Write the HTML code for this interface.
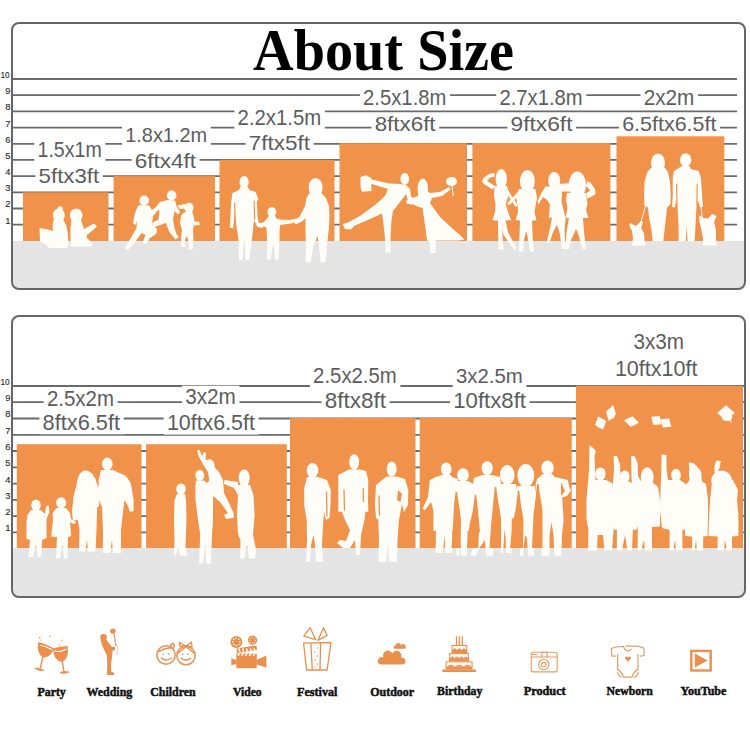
<!DOCTYPE html>
<html><head><meta charset="utf-8"><style>
html,body{margin:0;padding:0;background:#fff;width:750px;height:750px;overflow:hidden}
svg{display:block}
</style></head><body>
<svg width="750" height="750" viewBox="0 0 750 750">
<rect x="12" y="23" width="733" height="266" rx="7" fill="#fff"/>
<rect x="12" y="316" width="733" height="281" rx="7" fill="#fff"/>
<path d="M13 241 H744 V282 a6 6 0 0 1 -6 6 H19 a6 6 0 0 1 -6 -6 Z" fill="#e4e4e4"/>
<path d="M13 548 H744 V590 a6 6 0 0 1 -6 6 H19 a6 6 0 0 1 -6 -6 Z" fill="#e4e4e4"/>
<line x1="13" x2="737" y1="224.7" y2="224.7" stroke="#6a6a6a" stroke-width="1.8"/>
<line x1="13" x2="737" y1="208.5" y2="208.5" stroke="#6a6a6a" stroke-width="1.8"/>
<line x1="13" x2="737" y1="192.3" y2="192.3" stroke="#6a6a6a" stroke-width="1.8"/>
<line x1="13" x2="737" y1="176.1" y2="176.1" stroke="#6a6a6a" stroke-width="1.8"/>
<line x1="13" x2="737" y1="159.9" y2="159.9" stroke="#6a6a6a" stroke-width="1.8"/>
<line x1="13" x2="737" y1="143.8" y2="143.8" stroke="#6a6a6a" stroke-width="1.8"/>
<line x1="13" x2="737" y1="127.6" y2="127.6" stroke="#6a6a6a" stroke-width="1.8"/>
<line x1="13" x2="737" y1="111.4" y2="111.4" stroke="#6a6a6a" stroke-width="1.8"/>
<line x1="13" x2="737" y1="95.2" y2="95.2" stroke="#6a6a6a" stroke-width="1.8"/>
<line x1="13" x2="737" y1="79.0" y2="79.0" stroke="#6a6a6a" stroke-width="1.8"/>
<line x1="13" x2="744" y1="532.4" y2="532.4" stroke="#6a6a6a" stroke-width="1.8"/>
<line x1="13" x2="744" y1="516.1" y2="516.1" stroke="#6a6a6a" stroke-width="1.8"/>
<line x1="13" x2="744" y1="499.9" y2="499.9" stroke="#6a6a6a" stroke-width="1.8"/>
<line x1="13" x2="744" y1="483.6" y2="483.6" stroke="#6a6a6a" stroke-width="1.8"/>
<line x1="13" x2="744" y1="467.3" y2="467.3" stroke="#6a6a6a" stroke-width="1.8"/>
<line x1="13" x2="744" y1="451.0" y2="451.0" stroke="#6a6a6a" stroke-width="1.8"/>
<line x1="13" x2="744" y1="434.8" y2="434.8" stroke="#6a6a6a" stroke-width="1.8"/>
<line x1="13" x2="744" y1="418.5" y2="418.5" stroke="#6a6a6a" stroke-width="1.8"/>
<line x1="13" x2="744" y1="402.2" y2="402.2" stroke="#6a6a6a" stroke-width="1.8"/>
<line x1="13" x2="744" y1="386.0" y2="386.0" stroke="#6a6a6a" stroke-width="1.8"/>
<rect x="23" y="192.3" width="85.5" height="48.7" fill="#f1924a"/>
<rect x="113.6" y="176.1" width="101.4" height="64.9" fill="#f1924a"/>
<rect x="219.5" y="159.8" width="115.0" height="81.2" fill="#f1924a"/>
<rect x="339.5" y="143.2" width="127.5" height="97.8" fill="#f1924a"/>
<rect x="472.4" y="143.0" width="138.0" height="98.0" fill="#f1924a"/>
<rect x="616.5" y="136.3" width="107.8" height="104.7" fill="#f1924a"/>
<rect x="16.8" y="444.2" width="124.7" height="103.8" fill="#f1924a"/>
<rect x="146.1" y="444.2" width="140.7" height="103.8" fill="#f1924a"/>
<rect x="290" y="418.0" width="125.5" height="130.0" fill="#f1924a"/>
<rect x="419.7" y="417.9" width="152.0" height="130.1" fill="#f1924a"/>
<rect x="576" y="385.7" width="167.0" height="162.3" fill="#f1924a"/>
<ellipse cx="58.8" cy="215.3" rx="5.9" ry="6.9" fill="#fffdf8"/>
<ellipse cx="60.2" cy="208.8" rx="2.6" ry="2.6" fill="#fffdf8"/>
<path d="M53.5 220.0 L63.5 220.0 L66.5 226.0 L68.0 235.0 L68.4 244.0 L67.0 248.0 L49.0 248.0 L46.0 244.5 L40.0 241.5 L39.5 228.0 L48.0 229.5 L53.0 231.0 L52.5 226.0 Z" fill="#fffdf8"/>
<ellipse cx="76.2" cy="215.3" rx="6.3" ry="6.9" fill="#fffdf8"/>
<path d="M71.5 220.0 L81.0 220.0 L83.0 226.0 L84.0 229.0 L94.0 223.5 L97.0 226.5 L86.5 235.5 L87.0 238.0 L92.5 243.0 L91.5 246.5 L70.5 246.5 L70.5 238.0 L70.5 228.0 Z" fill="#fffdf8"/>
<ellipse cx="144.2" cy="200.5" rx="4.8" ry="5.0" fill="#fffdf8"/>
<path d="M139.5 205.0 L149.0 205.5 L152.0 210.0 L156.5 207.0 L158.5 209.5 L153.0 216.0 L152.0 224.0 L157.0 229.0 L156.5 233.5 L149.5 238.5 L146.5 244.0 L142.5 243.0 L145.5 235.0 L141.5 233.0 L134.0 243.5 L128.0 250.0 L124.5 248.5 L130.5 238.5 L136.5 228.0 L137.0 221.0 L135.5 225.0 L133.0 223.0 L135.0 213.0 L137.5 207.0 Z" fill="#fffdf8"/>
<ellipse cx="171.6" cy="195.5" rx="4.8" ry="5.0" fill="#fffdf8"/>
<path d="M167.5 200.0 L175.0 200.5 L176.5 206.0 L180.0 212.0 L178.0 214.5 L174.5 211.0 L173.0 219.0 L174.5 228.0 L176.5 234.0 L179.0 237.0 L175.5 239.5 L169.0 231.5 L166.0 223.0 L160.0 225.0 L154.0 227.0 L152.0 223.0 L158.5 219.5 L159.5 212.0 L158.0 208.5 L155.0 212.5 L153.0 210.5 L160.0 202.0 Z" fill="#fffdf8"/>
<ellipse cx="189.0" cy="207.8" rx="4.6" ry="5.0" fill="#fffdf8"/>
<path d="M177.5 205.5 L185.0 204.0 L185.5 208.5 L179.5 209.0 Z" fill="#fffdf8"/>
<path d="M185.0 212.0 L192.5 212.0 L194.0 218.0 L194.5 221.5 L199.5 222.0 L199.5 225.0 L193.5 225.5 L193.0 232.0 L193.5 240.0 L192.5 249.5 L188.5 249.5 L188.5 241.0 L186.5 236.0 L185.0 240.0 L185.5 247.0 L181.5 247.0 L181.0 238.0 L182.0 230.0 L180.0 223.0 L181.0 216.0 L183.0 213.5 Z" fill="#fffdf8"/>
<ellipse cx="244.1" cy="181.9" rx="4.6" ry="6.0" fill="#fffdf8"/>
<path d="M240.5 186.5 L247.5 186.5 L249.5 190.0 L255.5 192.0 L258.5 199.0 L256.8 201.5 L257.5 215.0 L258.5 222.0 L263.0 225.0 L263.0 228.0 L257.5 227.0 L255.0 222.0 L254.0 220.0 L252.0 239.0 L249.5 259.5 L245.5 260.0 L245.0 245.0 L244.0 240.0 L242.5 260.0 L239.0 260.5 L238.5 240.0 L235.5 220.0 L235.0 210.0 L233.5 225.0 L233.0 228.5 L229.8 227.5 L230.5 215.0 L231.3 201.0 L232.5 193.0 L239.0 190.0 Z" fill="#fffdf8"/>
<ellipse cx="271.9" cy="212.0" rx="4.4" ry="4.8" fill="#fffdf8"/>
<path d="M269.0 216.0 L275.0 216.0 L276.5 218.5 L279.5 219.5 L290.0 220.0 L296.5 218.5 L297.5 221.5 L291.0 223.5 L280.0 225.0 L279.5 232.0 L279.5 239.0 L278.5 259.5 L275.0 259.5 L273.5 243.0 L270.5 259.5 L267.0 259.5 L267.0 240.0 L266.5 228.0 L264.5 226.5 L259.0 226.0 L258.0 224.0 L264.0 222.0 L267.5 218.0 Z" fill="#fffdf8"/>
<ellipse cx="315.6" cy="187.5" rx="7.0" ry="9.5" fill="#fffdf8"/>
<path d="M309.5 193.0 L321.5 193.0 L326.0 198.0 L329.0 206.0 L329.5 215.0 L329.0 228.0 L327.5 240.0 L326.5 252.0 L325.5 262.5 L320.5 262.5 L319.0 244.0 L317.5 236.0 L313.5 246.0 L310.5 262.5 L305.5 262.5 L306.0 246.0 L305.5 232.0 L305.5 218.0 L302.5 221.0 L296.0 224.5 L293.5 221.5 L300.0 216.0 L305.0 206.0 L306.5 198.0 Z" fill="#fffdf8"/>
<line x1="234.6" y1="203.0" x2="235.3" y2="223.0" stroke="#f1924a" stroke-width="1.2" stroke-linecap="round"/>
<line x1="254.2" y1="201.0" x2="254.6" y2="219.0" stroke="#f1924a" stroke-width="1.2" stroke-linecap="round"/>
<path d="M360.5 177.0 L366.0 175.3 L371.0 178.0 L371.5 191.0 L362.0 191.7 L360.5 187.0 Z" fill="#fffdf8"/>
<path d="M369.0 177.0 L372.0 179.5 L389.0 183.5 L400.0 184.0 L406.0 185.0 L410.0 189.0 L411.0 196.0 L413.0 199.0 L415.0 199.0 L415.5 202.0 L411.0 205.0 L408.0 201.0 L406.0 194.0 L400.0 202.0 L393.0 211.0 L391.5 220.0 L390.5 238.0 L390.5 252.5 L385.5 252.5 L385.0 238.0 L383.0 220.0 L382.0 213.5 L370.0 219.0 L354.0 226.0 L351.0 229.5 L345.0 229.0 L342.5 224.0 L348.0 222.5 L360.0 216.0 L375.0 205.0 L385.0 196.0 L388.0 189.0 L372.0 184.0 L368.0 182.0 Z" fill="#fffdf8"/>
<ellipse cx="404.8" cy="178.8" rx="4.4" ry="5.9" fill="#fffdf8"/>
<ellipse cx="422.8" cy="188.5" rx="5.2" ry="10.0" fill="#fffdf8"/>
<path d="M419.0 190.0 L426.0 190.0 L430.0 193.0 L440.0 192.0 L449.0 187.0 L450.5 189.5 L442.0 196.0 L432.0 198.0 L430.0 203.0 L440.0 217.0 L453.0 229.0 L460.0 235.0 L464.5 239.5 L458.0 240.5 L436.0 240.5 L435.5 253.0 L430.5 253.0 L429.5 241.0 L427.0 240.5 L425.0 225.0 L422.5 208.0 L419.0 207.0 L412.0 204.0 L407.0 204.0 L406.0 201.0 L412.0 198.0 L418.0 196.0 Z" fill="#fffdf8"/>
<ellipse cx="451.5" cy="181.5" rx="5.5" ry="4.6" fill="#fffdf8"/>
<line x1="452.0" y1="186.0" x2="453.3" y2="195.8" stroke="#fffdf8" stroke-width="1" stroke-linecap="round"/>
<ellipse cx="501.3" cy="179.0" rx="5.7" ry="9.9" fill="#fffdf8"/>
<path d="M494.5 173.0 L489.0 174.0 L483.5 178.0 L481.8 181.5 L484.0 184.0 L492.5 189.5 L495.0 186.0 L487.0 181.0 L490.0 177.5 L495.0 176.5 Z" fill="#fffdf8"/>
<path d="M494.5 186.0 L507.0 186.0 L509.0 193.0 L507.0 200.0 L505.8 204.6 L508.0 212.0 L511.2 220.2 L505.5 220.5 L508.0 232.0 L516.5 248.0 L514.5 250.0 L503.5 235.0 L502.0 229.0 L503.5 249.0 L498.5 249.5 L498.0 232.0 L498.0 220.5 L492.6 220.2 L495.0 212.0 L495.6 204.6 L494.0 196.0 Z" fill="#fffdf8"/>
<line x1="506.0" y1="190.0" x2="516.0" y2="205.0" stroke="#fffdf8" stroke-width="3" stroke-linecap="round"/>
<ellipse cx="527.4" cy="181.2" rx="7.4" ry="11.2" fill="#fffdf8"/>
<path d="M519.0 189.0 L535.5 189.0 L537.0 198.0 L535.5 206.0 L534.5 212.0 L536.4 220.2 L532.0 220.5 L532.5 235.0 L534.0 251.4 L530.0 251.4 L527.5 236.0 L526.0 231.0 L524.0 240.0 L523.0 251.4 L519.0 251.4 L519.5 235.0 L520.0 220.5 L515.5 220.2 L518.0 212.0 L517.5 205.0 L516.0 197.0 Z" fill="#fffdf8"/>
<line x1="520.0" y1="192.0" x2="509.0" y2="203.5" stroke="#fffdf8" stroke-width="3" stroke-linecap="round"/>
<ellipse cx="554.2" cy="180.5" rx="6.0" ry="8.5" fill="#fffdf8"/>
<path d="M545.5 186.6 L560.8 186.6 L562.0 195.0 L561.5 200.0 L562.0 204.6 L565.6 217.8 L564.5 232.0 L565.6 249.0 L562.0 249.0 L559.5 232.0 L557.0 225.0 L553.0 232.0 L549.5 243.0 L546.5 243.0 L550.0 228.0 L552.0 217.8 L548.8 217.8 L550.0 204.6 L547.0 200.0 L543.0 197.0 L538.5 204.5 L537.5 201.0 L542.0 192.0 Z" fill="#fffdf8"/>
<ellipse cx="577.3" cy="185.0" rx="8.7" ry="13.5" fill="#fffdf8"/>
<path d="M557.5 184.0 L572.8 183.0 L573.5 191.4 L559.0 191.4 Z" fill="#fffdf8"/>
<path d="M586.0 186.0 L587.2 181.5 L590.0 182.0 L595.0 189.0 L595.6 194.0 L592.0 196.5 L587.0 198.5 L586.5 193.0 L590.5 190.5 Z" fill="#fffdf8"/>
<path d="M567.0 193.0 L586.0 193.0 L587.5 204.0 L586.0 210.0 L588.4 217.8 L583.0 218.0 L584.0 232.0 L586.0 249.0 L582.5 249.0 L578.0 233.0 L576.0 229.0 L571.0 240.0 L569.0 249.0 L565.6 249.0 L566.5 232.0 L569.0 218.0 L565.6 217.8 L567.5 208.0 L566.0 200.0 Z" fill="#fffdf8"/>
<ellipse cx="658.0" cy="163.0" rx="7.0" ry="9.5" fill="#fffdf8"/>
<path d="M651.0 168.0 L665.0 168.0 L668.0 172.0 L670.0 182.0 L670.7 195.0 L670.5 204.0 L668.0 206.5 L667.0 208.0 L665.5 222.0 L664.0 235.0 L663.3 241.0 L652.7 241.0 L651.5 230.0 L649.0 217.0 L648.0 208.0 L647.0 206.5 L644.5 205.8 L644.0 195.0 L644.5 182.0 L647.3 172.0 Z" fill="#fffdf8"/>
<ellipse cx="685.7" cy="160.0" rx="5.7" ry="6.7" fill="#fffdf8"/>
<path d="M682.0 166.0 L689.5 166.0 L691.0 169.3 L698.7 171.0 L701.0 178.0 L702.0 195.0 L703.0 206.7 L700.0 207.5 L698.0 200.0 L696.5 206.7 L695.5 225.0 L694.7 241.3 L687.5 241.3 L686.8 225.0 L685.8 241.3 L678.7 241.3 L678.5 225.0 L677.5 206.7 L676.0 200.0 L675.0 207.5 L672.0 206.7 L672.8 195.0 L672.7 178.0 L674.0 171.0 Z" fill="#fffdf8"/>
<line x1="676.6" y1="184.0" x2="677.0" y2="206.0" stroke="#f1924a" stroke-width="1.2" stroke-linecap="round"/>
<line x1="697.2" y1="184.0" x2="696.9" y2="205.0" stroke="#f1924a" stroke-width="1.2" stroke-linecap="round"/>
<path d="M630.0 223.0 L633.0 224.5 L636.0 226.0 L641.0 221.0 L643.0 222.0 L641.0 228.0 L644.0 233.0 L644.5 241.0 L646.0 245.5 L632.0 245.5 L633.0 238.0 L632.0 231.0 L629.5 226.0 Z" fill="#fffdf8"/>
<path d="M699.0 215.0 L703.0 218.0 L708.0 218.5 L712.0 214.0 L716.5 216.0 L714.0 222.0 L716.0 230.0 L716.0 240.0 L717.0 245.5 L703.0 245.5 L703.0 238.0 L701.0 228.0 L699.5 222.0 Z" fill="#fffdf8"/>
<line x1="645.5" y1="206.0" x2="641.0" y2="222.0" stroke="#fffdf8" stroke-width="0.9" stroke-linecap="round"/>
<line x1="701.0" y1="207.0" x2="702.5" y2="220.0" stroke="#fffdf8" stroke-width="0.9" stroke-linecap="round"/>
<ellipse cx="36.0" cy="505.2" rx="4.8" ry="5.6" fill="#fffdf8"/>
<path d="M31.0 510.0 L41.0 510.0 L45.0 514.0 L46.0 507.0 L48.5 505.0 L49.5 512.0 L46.5 519.0 L46.5 538.0 L42.0 540.0 L41.5 556.0 L38.0 557.5 L36.0 545.0 L33.0 557.0 L28.5 557.0 L30.0 540.0 L26.5 539.0 L26.5 522.0 L27.5 515.0 Z" fill="#fffdf8"/>
<ellipse cx="61.2" cy="502.8" rx="5.0" ry="5.6" fill="#fffdf8"/>
<path d="M56.5 508.0 L66.0 508.0 L70.0 513.0 L71.0 519.0 L76.0 522.0 L74.5 524.0 L70.0 522.5 L71.2 536.0 L68.0 537.0 L67.5 558.5 L64.0 558.5 L62.5 545.0 L60.0 558.5 L56.0 558.5 L57.0 537.0 L51.2 536.5 L53.0 520.0 L52.5 513.0 Z" fill="#fffdf8"/>
<ellipse cx="85.5" cy="477.5" rx="6.0" ry="7.0" fill="#fffdf8"/>
<path d="M79.5 474.0 L83.5 470.8 L88.5 471.0 L92.5 474.0 L95.5 479.0 L97.5 486.0 L76.0 488.5 L77.0 481.0 Z" fill="#fffdf8"/>
<path d="M76.0 487.0 L97.0 484.0 L100.0 490.0 L99.0 506.0 L97.2 507.0 L96.5 530.0 L95.5 551.6 L88.0 551.6 L87.0 540.0 L85.0 551.6 L79.0 551.6 L79.5 530.0 L78.0 520.0 L73.0 520.8 L72.0 512.0 L73.4 497.0 Z" fill="#fffdf8"/>
<ellipse cx="107.3" cy="464.0" rx="5.3" ry="6.5" fill="#fffdf8"/>
<path d="M101.0 470.0 L113.0 470.0 L126.0 476.0 L130.8 483.0 L133.6 500.0 L133.6 511.0 L130.0 512.0 L127.5 505.0 L124.5 500.0 L123.0 512.0 L121.0 530.0 L121.0 553.0 L113.0 553.0 L112.0 540.0 L110.0 553.0 L102.8 553.0 L103.0 530.0 L102.0 507.0 L99.0 500.0 L98.6 480.0 Z" fill="#fffdf8"/>
<ellipse cx="181.0" cy="489.0" rx="4.8" ry="5.6" fill="#fffdf8"/>
<path d="M177.0 494.0 L185.0 494.0 L186.0 500.0 L186.5 520.0 L185.5 547.0 L187.5 555.4 L180.0 555.4 L178.0 547.0 L176.0 555.4 L173.8 555.0 L174.5 540.0 L174.0 520.0 L174.5 500.0 Z" fill="#fffdf8"/>
<ellipse cx="199.8" cy="475.4" rx="4.4" ry="5.6" fill="#fffdf8"/>
<path d="M196.0 480.5 L204.0 480.5 L207.0 483.0 L212.0 478.0 L215.0 480.0 L213.0 490.0 L213.0 520.0 L212.0 534.6 L211.0 563.4 L206.5 563.4 L205.0 545.0 L203.0 563.4 L199.0 563.4 L200.2 534.6 L198.0 520.0 L195.5 500.0 L195.4 486.0 Z" fill="#fffdf8"/>
<path d="M197.0 450.0 L199.5 450.0 L202.0 456.0 L204.0 452.0 L206.0 453.0 L205.5 460.0 L210.0 459.5 L214.0 462.0 L215.0 468.0 L219.0 472.0 L223.0 480.0 L224.0 493.0 L229.0 503.0 L233.5 513.0 L234.0 517.5 L226.0 519.0 L224.0 515.0 L228.0 513.0 L220.0 502.0 L213.0 496.0 L210.0 485.0 L208.0 472.0 L204.0 466.0 L198.5 456.0 Z" fill="#fffdf8"/>
<ellipse cx="210.0" cy="464.2" rx="4.2" ry="4.6" fill="#fffdf8"/>
<ellipse cx="244.2" cy="478.0" rx="5.5" ry="8.8" fill="#fffdf8"/>
<path d="M238.0 485.0 L250.0 485.0 L253.5 495.0 L254.6 515.0 L253.0 534.6 L256.0 550.0 L255.0 558.6 L249.0 558.6 L247.0 545.0 L244.0 558.6 L240.2 558.6 L240.5 540.0 L238.0 534.6 L237.0 515.0 L238.0 495.0 L234.0 488.0 L224.0 484.0 L224.5 480.0 L238.0 482.0 Z" fill="#fffdf8"/>
<ellipse cx="312.5" cy="470.5" rx="5.8" ry="7.5" fill="#fffdf8"/>
<path d="M307.0 477.0 L318.0 477.0 L327.0 480.0 L330.8 490.0 L330.5 505.0 L329.5 518.0 L326.0 520.0 L324.0 512.0 L323.0 525.0 L322.0 545.0 L323.3 561.7 L316.0 561.7 L315.0 545.0 L313.5 535.0 L311.0 545.0 L310.0 561.7 L306.0 561.7 L307.0 540.0 L306.7 520.0 L304.2 505.0 L304.2 488.0 Z" fill="#fffdf8"/>
<ellipse cx="354.2" cy="462.0" rx="5.0" ry="7.8" fill="#fffdf8"/>
<path d="M349.0 469.5 L359.5 469.5 L366.0 471.0 L368.3 480.0 L368.0 500.0 L368.3 511.7 L365.5 511.7 L364.5 520.0 L361.0 535.0 L360.0 555.0 L356.0 555.0 L355.0 540.0 L350.0 548.0 L343.0 548.0 L337.0 543.0 L340.0 540.0 L346.0 541.0 L350.0 530.0 L345.0 520.0 L342.0 511.7 L338.3 511.7 L338.3 490.0 L338.3 475.0 Z" fill="#fffdf8"/>
<ellipse cx="391.7" cy="469.0" rx="5.0" ry="7.5" fill="#fffdf8"/>
<path d="M386.5 476.5 L397.0 476.5 L405.0 479.0 L408.3 490.0 L408.0 505.0 L404.0 512.0 L402.0 504.0 L399.0 520.0 L397.5 540.0 L397.0 561.7 L389.0 561.7 L388.0 545.0 L386.0 561.7 L378.3 561.7 L379.0 540.0 L378.3 520.0 L376.0 518.0 L375.0 505.0 L376.0 485.0 Z" fill="#fffdf8"/>
<line x1="326.5" y1="492.0" x2="327.0" y2="516.0" stroke="#f1924a" stroke-width="1.3" stroke-linecap="round"/>
<line x1="344.0" y1="490.0" x2="344.5" y2="510.0" stroke="#f1924a" stroke-width="1.3" stroke-linecap="round"/>
<line x1="363.3" y1="488.5" x2="363.5" y2="501.5" stroke="#f1924a" stroke-width="1.3" stroke-linecap="round"/>
<line x1="379.0" y1="496.0" x2="379.5" y2="515.0" stroke="#f1924a" stroke-width="1.3" stroke-linecap="round"/>
<path d="M398 490 L402 494 L400.5 502 L397 500 Z" fill="#f1924a"/>
<ellipse cx="446.2" cy="469.3" rx="5.3" ry="6.7" fill="#fffdf8"/>
<path d="M442.0 475.0 L450.5 475.0 L452.0 477.0 L457.8 479.0 L459.0 490.0 L458.5 500.0 L455.5 511.0 L455.0 530.6 L452.2 531.0 L452.5 553.0 L445.5 553.0 L444.5 535.0 L443.0 553.0 L435.5 553.0 L436.0 531.0 L433.3 530.6 L433.5 511.0 L431.0 502.0 L425.0 510.0 L422.5 509.0 L428.0 497.0 L429.8 480.0 L436.0 477.0 Z" fill="#fffdf8"/>
<ellipse cx="463.0" cy="475.0" rx="5.9" ry="6.7" fill="#fffdf8"/>
<path d="M458.0 481.0 L468.0 481.0 L473.0 484.0 L476.0 495.0 L475.0 510.0 L473.0 522.0 L472.0 530.0 L467.6 531.0 L467.0 555.8 L461.0 555.8 L460.5 540.0 L459.0 555.8 L456.5 555.8 L456.0 530.6 L455.0 518.0 L456.5 505.0 L457.0 490.0 Z" fill="#fffdf8"/>
<ellipse cx="487.2" cy="468.3" rx="5.6" ry="7.0" fill="#fffdf8"/>
<path d="M482.0 475.0 L492.0 475.0 L500.0 477.0 L502.0 490.0 L500.5 500.0 L498.0 515.0 L496.0 527.8 L494.0 545.0 L492.8 555.8 L486.0 555.8 L485.0 540.0 L478.0 550.0 L476.0 555.8 L470.4 555.5 L474.0 545.0 L480.0 531.0 L478.0 515.0 L476.0 500.0 L472.0 490.0 L474.0 478.0 Z" fill="#fffdf8"/>
<ellipse cx="507.2" cy="475.0" rx="7.3" ry="10.0" fill="#fffdf8"/>
<path d="M498.0 484.0 L516.0 484.0 L517.0 495.0 L516.5 505.0 L516.0 518.0 L511.8 518.5 L511.5 540.0 L511.8 553.0 L506.0 553.0 L505.5 535.0 L504.5 530.0 L503.0 553.0 L500.6 553.0 L500.8 535.0 L500.8 518.5 L496.4 518.0 L497.5 505.0 L496.4 492.0 Z" fill="#fffdf8"/>
<ellipse cx="525.8" cy="475.5" rx="8.4" ry="11.5" fill="#fffdf8"/>
<path d="M517.0 486.0 L535.0 486.0 L537.0 500.0 L536.0 510.0 L537.0 518.0 L534.2 520.0 L534.0 540.0 L534.2 555.8 L528.0 555.8 L527.0 538.0 L525.0 535.0 L523.0 555.8 L520.2 555.8 L520.5 540.0 L520.0 520.0 L516.0 518.0 L517.0 505.0 L515.5 495.0 Z" fill="#fffdf8"/>
<ellipse cx="547.5" cy="467.8" rx="6.3" ry="7.3" fill="#fffdf8"/>
<path d="M543.0 474.0 L552.0 474.0 L555.0 477.0 L567.8 480.0 L569.5 488.0 L571.3 490.0 L567.0 496.0 L562.2 497.5 L563.0 510.0 L563.6 520.0 L562.0 535.0 L561.5 555.8 L554.5 555.8 L553.5 535.0 L551.5 522.0 L549.5 535.0 L549.5 555.8 L541.5 555.8 L541.5 535.0 L539.8 518.0 L539.0 505.0 L537.0 497.0 L535.6 485.0 L537.0 479.0 Z" fill="#fffdf8"/>
<path d="M561 482 L565 491 L561 496 Z" fill="#f1924a"/>
<path d="M455.5 492.0 L457.0 492.0 L459.0 505.0 L461.0 520.0 L460.5 548.0 L451.5 548.0 L453.0 525.0 L454.0 505.0 Z" fill="#f1924a"/>
<path d="M474.8 495.0 L476.2 495.0 L478.0 510.0 L479.0 525.0 L478.4 548.0 L467.0 548.0 L469.5 525.0 L473.0 510.0 Z" fill="#f1924a"/>
<path d="M494.8 487.0 L496.2 487.0 L498.0 500.0 L501.0 518.0 L501.0 548.0 L489.5 548.0 L491.5 520.0 L493.5 500.0 Z" fill="#f1924a"/>
<path d="M517.8 490.5 L519.2 490.5 L521.0 505.0 L523.5 520.0 L523.0 548.0 L510.0 548.0 L513.0 522.0 L516.5 505.0 Z" fill="#f1924a"/>
<path d="M537.0 484.0 L538.6 484.0 L540.0 495.0 L542.5 510.0 L542.5 548.0 L532.0 548.0 L533.5 515.0 L536.0 495.0 Z" fill="#f1924a"/>
<ellipse cx="600.8" cy="425.0" rx="3.5" ry="3.2" fill="#fffdf8"/>
<ellipse cx="611.5" cy="415.0" rx="3.2" ry="4.0" fill="#fffdf8"/>
<ellipse cx="632.0" cy="423.0" rx="4.0" ry="2.6" fill="#fffdf8"/>
<ellipse cx="727.0" cy="417.5" rx="5.2" ry="3.6" fill="#fffdf8"/>
<line x1="729.0" y1="419.0" x2="731.0" y2="422.0" stroke="#fffdf8" stroke-width="1.2" stroke-linecap="round"/>
<path d="M594.6 423.0 L600.6 416.0 L606.6 423.0 L600.6 430.0 Z" fill="#fffdf8" transform="rotate(-20 600.6 423)"/>
<path d="M605.8 413.0 L611.0 404.6 L616.2 413.0 L611.0 421.4 Z" fill="#fffdf8" transform="rotate(15 611 413)"/>
<path d="M623.9 421.5 L631.5 416.1 L639.1 421.5 L631.5 426.9 Z" fill="#fffdf8" transform="rotate(10 631.5 421.5)"/>
<path d="M650.0 420.5 L656.5 415.0 L663.0 420.5 L656.5 426.0 Z" fill="#fffdf8" transform="rotate(35 656.5 420.5)"/>
<path d="M659.5 423.0 L666.0 417.5 L672.5 423.0 L666.0 428.5 Z" fill="#fffdf8" transform="rotate(35 666 423)"/>
<path d="M717.2 413.0 L726.0 405.2 L734.8 413.0 L726.0 420.8 Z" fill="#fffdf8" transform="rotate(0 726 413)"/>
<path d="M589.6 445.0 L592.0 447.0 L596.0 451.0 L594.5 456.0 L595.0 470.0 L595.5 480.0 L606.0 480.0 L612.0 483.0 L615.5 495.0 L615.2 515.0 L613.6 529.6 L612.0 550.4 L604.5 550.4 L603.0 535.0 L597.6 535.0 L597.0 550.4 L588.0 550.4 L588.5 530.0 L586.5 520.0 L586.4 500.0 L588.0 482.0 L589.0 470.0 L589.3 455.0 Z" fill="#fffdf8"/>
<ellipse cx="600.4" cy="474.0" rx="5.2" ry="6.6" fill="#fffdf8"/>
<path d="M613.6 456.0 L617.0 456.0 L620.0 464.0 L620.5 476.0 L621.0 481.0 L629.0 481.6 L634.0 484.0 L638.0 492.0 L639.2 510.0 L637.0 529.6 L632.8 530.0 L632.0 550.4 L627.5 550.4 L625.0 535.0 L622.0 550.4 L616.8 550.4 L617.0 530.0 L614.0 529.6 L612.0 510.0 L611.0 495.0 L613.0 482.0 L614.0 470.0 Z" fill="#fffdf8"/>
<ellipse cx="624.8" cy="476.8" rx="4.8" ry="6.4" fill="#fffdf8"/>
<path d="M631.2 456.0 L634.5 456.0 L637.6 463.0 L638.0 476.0 L641.0 481.6 L652.0 482.0 L658.0 487.0 L660.0 500.0 L660.0 526.4 L652.0 527.0 L652.0 550.4 L645.0 550.4 L644.0 540.0 L641.0 550.4 L637.6 550.4 L637.8 527.0 L634.4 526.4 L634.0 505.0 L632.5 490.0 L631.5 478.0 Z" fill="#fffdf8"/>
<ellipse cx="647.2" cy="477.6" rx="6.4" ry="10.4" fill="#fffdf8"/>
<path d="M661.6 454.4 L666.4 455.0 L666.6 470.0 L668.0 480.0 L680.0 480.0 L686.0 484.0 L687.2 500.0 L686.0 515.0 L687.0 529.6 L682.4 530.0 L682.4 550.4 L676.0 550.4 L675.0 540.0 L673.0 550.4 L669.6 550.4 L669.6 530.0 L662.0 528.0 L660.0 510.0 L660.5 490.0 L661.2 475.0 Z" fill="#fffdf8"/>
<ellipse cx="676.0" cy="475.2" rx="4.8" ry="6.4" fill="#fffdf8"/>
<path d="M689.0 462.4 L693.0 463.0 L696.8 466.0 L701.0 474.0 L702.0 481.6 L706.0 484.0 L708.0 500.0 L708.0 520.0 L707.5 536.0 L703.2 536.5 L703.2 550.4 L697.0 550.4 L696.0 540.0 L694.5 550.4 L692.0 550.4 L692.0 536.5 L685.0 536.0 L685.5 515.0 L684.0 500.0 L686.0 485.0 L689.5 480.0 Z" fill="#fffdf8"/>
<ellipse cx="695.2" cy="474.4" rx="6.2" ry="7.2" fill="#fffdf8"/>
<path d="M716.4 460.5 L720.8 461.0 L719.5 468.0 L716.0 476.0 L712.0 483.0 L710.0 500.0 L709.0 520.0 L708.5 536.0 L717.6 536.5 L717.6 550.4 L724.0 550.4 L725.0 540.0 L727.0 550.4 L732.0 550.4 L732.0 536.5 L738.4 536.0 L738.4 515.0 L737.0 500.0 L738.0 490.0 L733.0 480.0 L727.0 478.0 L717.5 476.0 L714.5 472.0 L714.5 466.0 Z" fill="#fffdf8"/>
<ellipse cx="721.6" cy="480.8" rx="10.4" ry="10.4" fill="#fffdf8"/>
<rect x="34.3" y="138.9" width="71.0" height="22.5" fill="#fff"/>
<rect x="35.4" y="165.9" width="67.4" height="21.1" fill="#fff"/>
<rect x="122.0" y="124.5" width="88.8" height="21.9" fill="#fff"/>
<rect x="131.6" y="151.2" width="68.0" height="21.1" fill="#fff"/>
<rect x="234.4" y="106.9" width="90.4" height="22.4" fill="#fff"/>
<rect x="245.6" y="132.5" width="68.0" height="21.9" fill="#fff"/>
<rect x="359.9" y="87.3" width="90.1" height="22.4" fill="#fff"/>
<rect x="371.5" y="114.0" width="67.7" height="21.8" fill="#fff"/>
<rect x="496.2" y="87.3" width="90.1" height="22.4" fill="#fff"/>
<rect x="507.4" y="114.0" width="68.7" height="21.8" fill="#fff"/>
<rect x="640.5" y="87.3" width="57.5" height="22.4" fill="#fff"/>
<rect x="619.0" y="114.0" width="101.0" height="21.8" fill="#fff"/>
<rect x="43.7" y="387.8" width="73.9" height="22.2" fill="#fff"/>
<rect x="39.4" y="411.7" width="84.3" height="22.6" fill="#fff"/>
<rect x="182.0" y="385.7" width="57.5" height="22.4" fill="#fff"/>
<rect x="163.7" y="411.8" width="94.8" height="22.8" fill="#fff"/>
<rect x="309.9" y="364.7" width="90.5" height="22.8" fill="#fff"/>
<rect x="321.5" y="390.3" width="68.1" height="22.4" fill="#fff"/>
<rect x="452.7" y="365.2" width="73.7" height="22.0" fill="#fff"/>
<rect x="450.1" y="390.4" width="79.5" height="22.4" fill="#fff"/>
<rect x="630.2" y="331.0" width="57.4" height="22.3" fill="#fff"/>
<rect x="611.7" y="357.4" width="89.4" height="23.1" fill="#fff"/>
<text x="37.5" y="156.9" font-size="21.8" textLength="64.2" lengthAdjust="spacingAndGlyphs" fill="#5c5c5c" font-family="Liberation Sans">1.5x1m</text>
<text x="38.6" y="182.5" font-size="19.8" textLength="60.6" lengthAdjust="spacingAndGlyphs" fill="#5c5c5c" font-family="Liberation Sans">5ftx3ft</text>
<text x="125.2" y="141.9" font-size="20.9" textLength="82.0" lengthAdjust="spacingAndGlyphs" fill="#5c5c5c" font-family="Liberation Sans">1.8x1.2m</text>
<text x="134.8" y="167.8" font-size="19.8" textLength="61.2" lengthAdjust="spacingAndGlyphs" fill="#5c5c5c" font-family="Liberation Sans">6ftx4ft</text>
<text x="237.6" y="124.8" font-size="21.7" textLength="83.6" lengthAdjust="spacingAndGlyphs" fill="#5c5c5c" font-family="Liberation Sans">2.2x1.5m</text>
<text x="248.8" y="149.9" font-size="20.9" textLength="61.2" lengthAdjust="spacingAndGlyphs" fill="#5c5c5c" font-family="Liberation Sans">7ftx5ft</text>
<text x="363.1" y="105.2" font-size="21.7" textLength="83.3" lengthAdjust="spacingAndGlyphs" fill="#5c5c5c" font-family="Liberation Sans">2.5x1.8m</text>
<text x="374.7" y="131.3" font-size="20.8" textLength="60.9" lengthAdjust="spacingAndGlyphs" fill="#5c5c5c" font-family="Liberation Sans">8ftx6ft</text>
<text x="499.4" y="105.2" font-size="21.7" textLength="83.3" lengthAdjust="spacingAndGlyphs" fill="#5c5c5c" font-family="Liberation Sans">2.7x1.8m</text>
<text x="510.6" y="131.3" font-size="20.8" textLength="61.9" lengthAdjust="spacingAndGlyphs" fill="#5c5c5c" font-family="Liberation Sans">9ftx6ft</text>
<text x="643.7" y="105.2" font-size="21.7" textLength="50.7" lengthAdjust="spacingAndGlyphs" fill="#5c5c5c" font-family="Liberation Sans">2x2m</text>
<text x="622.2" y="131.3" font-size="20.8" textLength="94.2" lengthAdjust="spacingAndGlyphs" fill="#5c5c5c" font-family="Liberation Sans">6.5ftx6.5ft</text>
<text x="46.9" y="405.5" font-size="21.4" textLength="67.1" lengthAdjust="spacingAndGlyphs" fill="#5c5c5c" font-family="Liberation Sans">2.5x2m</text>
<text x="42.6" y="429.8" font-size="21.9" textLength="77.5" lengthAdjust="spacingAndGlyphs" fill="#5c5c5c" font-family="Liberation Sans">8ftx6.5ft</text>
<text x="185.2" y="403.6" font-size="21.7" textLength="50.7" lengthAdjust="spacingAndGlyphs" fill="#5c5c5c" font-family="Liberation Sans">3x2m</text>
<text x="166.9" y="430.1" font-size="22.2" textLength="88.0" lengthAdjust="spacingAndGlyphs" fill="#5c5c5c" font-family="Liberation Sans">10ftx6.5ft</text>
<text x="313.1" y="383.0" font-size="22.2" textLength="83.7" lengthAdjust="spacingAndGlyphs" fill="#5c5c5c" font-family="Liberation Sans">2.5x2.5m</text>
<text x="324.7" y="408.2" font-size="21.7" textLength="61.3" lengthAdjust="spacingAndGlyphs" fill="#5c5c5c" font-family="Liberation Sans">8ftx8ft</text>
<text x="455.9" y="382.7" font-size="21.1" textLength="66.9" lengthAdjust="spacingAndGlyphs" fill="#5c5c5c" font-family="Liberation Sans">3x2.5m</text>
<text x="453.3" y="408.3" font-size="21.7" textLength="72.7" lengthAdjust="spacingAndGlyphs" fill="#5c5c5c" font-family="Liberation Sans">10ftx8ft</text>
<text x="633.4" y="348.8" font-size="21.5" textLength="50.6" lengthAdjust="spacingAndGlyphs" fill="#5c5c5c" font-family="Liberation Sans">3x3m</text>
<text x="614.9" y="376.0" font-size="22.7" textLength="82.6" lengthAdjust="spacingAndGlyphs" fill="#5c5c5c" font-family="Liberation Sans">10ftx10ft</text>
<rect x="12" y="23" width="733" height="266" rx="7" fill="none" stroke="#666" stroke-width="2"/>
<rect x="12" y="316" width="733" height="281" rx="7" fill="none" stroke="#666" stroke-width="2"/>
<text x="10.4" y="223.6" font-size="9.4" text-anchor="end" fill="#262626" stroke="#262626" stroke-width="0.12" font-family="Liberation Sans" >1</text>
<text x="10.4" y="531.3" font-size="9.4" text-anchor="end" fill="#262626" stroke="#262626" stroke-width="0.12" font-family="Liberation Sans" >1</text>
<text x="10.4" y="207.4" font-size="9.4" text-anchor="end" fill="#262626" stroke="#262626" stroke-width="0.12" font-family="Liberation Sans" >2</text>
<text x="10.4" y="515.0" font-size="9.4" text-anchor="end" fill="#262626" stroke="#262626" stroke-width="0.12" font-family="Liberation Sans" >2</text>
<text x="10.4" y="191.2" font-size="9.4" text-anchor="end" fill="#262626" stroke="#262626" stroke-width="0.12" font-family="Liberation Sans" >3</text>
<text x="10.4" y="498.8" font-size="9.4" text-anchor="end" fill="#262626" stroke="#262626" stroke-width="0.12" font-family="Liberation Sans" >3</text>
<text x="10.4" y="175.0" font-size="9.4" text-anchor="end" fill="#262626" stroke="#262626" stroke-width="0.12" font-family="Liberation Sans" >4</text>
<text x="10.4" y="482.5" font-size="9.4" text-anchor="end" fill="#262626" stroke="#262626" stroke-width="0.12" font-family="Liberation Sans" >4</text>
<text x="10.4" y="158.8" font-size="9.4" text-anchor="end" fill="#262626" stroke="#262626" stroke-width="0.12" font-family="Liberation Sans" >5</text>
<text x="10.4" y="466.2" font-size="9.4" text-anchor="end" fill="#262626" stroke="#262626" stroke-width="0.12" font-family="Liberation Sans" >5</text>
<text x="10.4" y="142.7" font-size="9.4" text-anchor="end" fill="#262626" stroke="#262626" stroke-width="0.12" font-family="Liberation Sans" >6</text>
<text x="10.4" y="449.9" font-size="9.4" text-anchor="end" fill="#262626" stroke="#262626" stroke-width="0.12" font-family="Liberation Sans" >6</text>
<text x="10.4" y="126.5" font-size="9.4" text-anchor="end" fill="#262626" stroke="#262626" stroke-width="0.12" font-family="Liberation Sans" >7</text>
<text x="10.4" y="433.7" font-size="9.4" text-anchor="end" fill="#262626" stroke="#262626" stroke-width="0.12" font-family="Liberation Sans" >7</text>
<text x="10.4" y="110.3" font-size="9.4" text-anchor="end" fill="#262626" stroke="#262626" stroke-width="0.12" font-family="Liberation Sans" >8</text>
<text x="10.4" y="417.4" font-size="9.4" text-anchor="end" fill="#262626" stroke="#262626" stroke-width="0.12" font-family="Liberation Sans" >8</text>
<text x="10.4" y="94.1" font-size="9.4" text-anchor="end" fill="#262626" stroke="#262626" stroke-width="0.12" font-family="Liberation Sans" >9</text>
<text x="10.4" y="401.1" font-size="9.4" text-anchor="end" fill="#262626" stroke="#262626" stroke-width="0.12" font-family="Liberation Sans" >9</text>
<text x="9.6" y="77.9" font-size="9.4" text-anchor="end" fill="#262626" stroke="#262626" stroke-width="0.12" font-family="Liberation Sans" textLength='9.2' lengthAdjust='spacingAndGlyphs'>10</text>
<text x="9.6" y="384.9" font-size="9.4" text-anchor="end" fill="#262626" stroke="#262626" stroke-width="0.12" font-family="Liberation Sans" textLength='9.2' lengthAdjust='spacingAndGlyphs'>10</text>
<text x="253" y="70" font-size="59.5" font-weight="bold" textLength="261" lengthAdjust="spacingAndGlyphs" fill="#000" font-family="Liberation Serif">About Size</text>
<text x="37.5" y="696.0" font-size="12.8" font-weight="bold" textLength="28.3" lengthAdjust="spacingAndGlyphs" fill="#111" stroke="#111" stroke-width="0.5" font-family="Liberation Serif">Party</text>
<text x="86.6" y="696.2" font-size="12.8" font-weight="bold" textLength="45.6" lengthAdjust="spacingAndGlyphs" fill="#111" stroke="#111" stroke-width="0.5" font-family="Liberation Serif">Wedding</text>
<text x="150.3" y="696.2" font-size="12.8" font-weight="bold" textLength="45.3" lengthAdjust="spacingAndGlyphs" fill="#111" stroke="#111" stroke-width="0.5" font-family="Liberation Serif">Children</text>
<text x="233" y="696.2" font-size="12.8" font-weight="bold" textLength="28.7" lengthAdjust="spacingAndGlyphs" fill="#111" stroke="#111" stroke-width="0.5" font-family="Liberation Serif">Video</text>
<text x="297" y="696.1" font-size="12.8" font-weight="bold" textLength="40.5" lengthAdjust="spacingAndGlyphs" fill="#111" stroke="#111" stroke-width="0.5" font-family="Liberation Serif">Festival</text>
<text x="370.3" y="696.2" font-size="12.8" font-weight="bold" textLength="43.8" lengthAdjust="spacingAndGlyphs" fill="#111" stroke="#111" stroke-width="0.5" font-family="Liberation Serif">Outdoor</text>
<text x="437.1" y="695.3" font-size="12.8" font-weight="bold" textLength="45.2" lengthAdjust="spacingAndGlyphs" fill="#111" stroke="#111" stroke-width="0.5" font-family="Liberation Serif">Birthday</text>
<text x="523.7" y="695.0" font-size="12.8" font-weight="bold" textLength="42.0" lengthAdjust="spacingAndGlyphs" fill="#111" stroke="#111" stroke-width="0.5" font-family="Liberation Serif">Product</text>
<text x="606.5" y="695.0" font-size="12.8" font-weight="bold" textLength="46.3" lengthAdjust="spacingAndGlyphs" fill="#111" stroke="#111" stroke-width="0.5" font-family="Liberation Serif">Newborn</text>
<text x="680.6" y="695.0" font-size="12.8" font-weight="bold" textLength="45.8" lengthAdjust="spacingAndGlyphs" fill="#111" stroke="#111" stroke-width="0.5" font-family="Liberation Serif">YouTube</text>
<path d="M38.3 642.3 Q35.8 652.5 43 657.6 Q51.5 657.5 53.6 648.6 Q46 643.5 38.3 642.3 Z" fill="#ea8f4c"/>
<path d="M39.8 645.2 Q46 645.8 52 649.8" stroke="#fff" stroke-width="1.1" fill="none"/>
<path d="M42.9 656.5 L40.3 668.6" stroke="#ea8f4c" stroke-width="1.4"/>
<path d="M34.8 668.2 Q39 667.2 44.2 670.6 Q39 671.2 34.8 668.2 Z" fill="#ea8f4c" stroke="#ea8f4c" stroke-width="0.8"/>
<path d="M52.9 648.5 Q53.5 660.5 62.2 662 Q69.6 658 67.6 645.9 Q60 646 52.9 648.5 Z" fill="#ea8f4c"/>
<path d="M54.3 650.8 Q60 652.8 66.5 649" stroke="#fff" stroke-width="1.1" fill="none"/>
<path d="M62.2 661 L64 672" stroke="#ea8f4c" stroke-width="1.4"/>
<path d="M60 672.5 Q64.5 670.6 69.2 672 Q64.5 674.6 60 672.5 Z" fill="#ea8f4c" stroke="#ea8f4c" stroke-width="0.8"/>
<circle cx="39.6" cy="637.7" r="0.9" fill="#ea8f4c" opacity="0.8"/>
<circle cx="49.8" cy="636.4" r="0.8" fill="#ea8f4c" opacity="0.8"/>
<circle cx="62" cy="640.2" r="0.8" fill="#ea8f4c" opacity="0.8"/>
<circle cx="59.4" cy="645.2" r="0.7" fill="#ea8f4c" opacity="0.8"/>
<circle cx="40.8" cy="640" r="0.6" fill="#ea8f4c" opacity="0.8"/>
<ellipse cx="103.6" cy="637.3" rx="3.3" ry="3.2" fill="#ea8f4c"/>
<path d="M100.5 639 L106 639.5 L112 647 L115 646.8 L115.3 649.5 L112.5 651 L112 657 L111 665 L111.2 671.5 L114 672.8 L114 675 L107 675 L107.2 665 L107 656 L102 645 Z" fill="#ea8f4c"/>
<ellipse cx="112.9" cy="631.1" rx="2.8" ry="2.6" fill="#ea8f4c"/>
<path d="M114 633.5 L116 646" stroke="#ea8f4c" stroke-width="1.2"/>
<path d="M114.5 640 L118 648.5 L117 655" stroke="#c8c8c8" stroke-width="0.8" fill="none"/>
<circle cx="166" cy="655" r="9.2" stroke="#ea8f4c" stroke-width="1.5" fill="none" stroke-linecap="round"/>
<circle cx="186" cy="655.6" r="9.2" stroke="#ea8f4c" stroke-width="1.5" fill="none" stroke-linecap="round"/>
<path d="M158.3 651.6 Q165 648 172 647.6" stroke="#ea8f4c" stroke-width="1.5" fill="none" stroke-linecap="round"/>
<path d="M171 648 Q170 643.5 173 643.5 Q175 645 173.5 648" stroke="#ea8f4c" stroke-width="1.5" fill="none" stroke-linecap="round"/>
<path d="M180 646.5 L185.5 646 L179.5 642.5 Z M186.5 646 L192 647 L191.5 642.3 Z" stroke="#ea8f4c" stroke-width="1.3" fill="none"/>
<path d="M186 646.5 Q181 651 178 653 M186 646.5 Q191 651 194 653" stroke="#ea8f4c" stroke-width="1.5" fill="none" stroke-linecap="round"/>
<path d="M161.5 658 Q166 662 171.5 658 M181.5 658.2 Q186 662 190.5 658.2" stroke="#ea8f4c" stroke-width="1.5" fill="none" stroke-linecap="round"/>
<circle cx="163.3" cy="654.3" r="0.8" fill="#999"/>
<circle cx="168.7" cy="653.7" r="0.8" fill="#999"/>
<circle cx="182.7" cy="654.3" r="0.8" fill="#999"/>
<circle cx="188" cy="654.3" r="0.8" fill="#999"/>
<circle cx="236.3" cy="641.9" r="6" fill="#ea8f4c"/>
<circle cx="252.6" cy="640.3" r="4.7" fill="#ea8f4c"/>
<circle cx="239.90" cy="641.90" r="0.8" fill="#fff"/>
<circle cx="255.40" cy="640.30" r="0.55" fill="#fff"/>
<circle cx="238.85" cy="644.45" r="0.8" fill="#fff"/>
<circle cx="254.58" cy="642.28" r="0.55" fill="#fff"/>
<circle cx="236.30" cy="645.50" r="0.8" fill="#fff"/>
<circle cx="252.60" cy="643.10" r="0.55" fill="#fff"/>
<circle cx="233.75" cy="644.45" r="0.8" fill="#fff"/>
<circle cx="250.62" cy="642.28" r="0.55" fill="#fff"/>
<circle cx="232.70" cy="641.90" r="0.8" fill="#fff"/>
<circle cx="249.80" cy="640.30" r="0.55" fill="#fff"/>
<circle cx="233.75" cy="639.35" r="0.8" fill="#fff"/>
<circle cx="250.62" cy="638.32" r="0.55" fill="#fff"/>
<circle cx="236.30" cy="638.30" r="0.8" fill="#fff"/>
<circle cx="252.60" cy="637.50" r="0.55" fill="#fff"/>
<circle cx="238.85" cy="639.35" r="0.8" fill="#fff"/>
<circle cx="254.58" cy="638.32" r="0.55" fill="#fff"/>
<path d="M236.5 648.5 L256.5 645.5 L257 650 L237 653 Z" fill="#ea8f4c"/>
<rect x="236.3" y="653.6" width="20.5" height="14.6" fill="#ea8f4c"/>
<path d="M231.3 658.2 L236.5 660 L236.5 664 L231.3 665.2 Z" fill="#ea8f4c"/>
<path d="M256.5 660 L266.4 655.6 L266.4 667.6 L256.5 664.5 Z" fill="#ea8f4c"/>
<path d="M238.5 653.6 L240.1 653.6 L238.9 656 L237.3 656 Z" fill="#fff"/>
<path d="M239.0 651.8 L240.5 651.6 L239.7 648.2 L238.2 648.4 Z" fill="#fff"/>
<path d="M242.3 653.6 L243.9 653.6 L242.70000000000002 656 L241.10000000000002 656 Z" fill="#fff"/>
<path d="M242.8 651.8 L244.3 651.6 L243.5 648.2 L242.0 648.4 Z" fill="#fff"/>
<path d="M246.1 653.6 L247.7 653.6 L246.5 656 L244.9 656 Z" fill="#fff"/>
<path d="M246.6 651.8 L248.1 651.6 L247.29999999999998 648.2 L245.79999999999998 648.4 Z" fill="#fff"/>
<path d="M249.9 653.6 L251.5 653.6 L250.3 656 L248.70000000000002 656 Z" fill="#fff"/>
<path d="M250.4 651.8 L251.9 651.6 L251.1 648.2 L249.6 648.4 Z" fill="#fff"/>
<path d="M253.7 653.6 L255.29999999999998 653.6 L254.1 656 L252.5 656 Z" fill="#fff"/>
<path d="M254.2 651.8 L255.7 651.6 L254.89999999999998 648.2 L253.39999999999998 648.4 Z" fill="#fff"/>
<path d="M303.1 643.2 L331.3 642.5 M303.6 643.2 L306.6 670 L327.1 670 L331 642.6" stroke="#ea8f4c" stroke-width="1.3" fill="none" stroke-linejoin="round"/>
<path d="M310.9 643.5 L312.3 670 M320.6 643.2 L320 670" stroke="#ea8f4c" stroke-width="1.3" fill="none" stroke-linejoin="round"/>
<path d="M315.8 639.7 L310.1 627.7 L303.8 636.1 Z M317.9 640.4 L323.6 627.7 L327.1 635.4 Z" stroke="#ea8f4c" stroke-width="1.3" fill="none" stroke-linejoin="round"/>
<circle cx="317.8" cy="648" r="0.7" fill="#ea8f4c"/>
<circle cx="314.8" cy="652" r="0.7" fill="#ea8f4c"/>
<circle cx="317.2" cy="656" r="0.7" fill="#ea8f4c"/>
<circle cx="315.3" cy="660" r="0.7" fill="#ea8f4c"/>
<circle cx="317.5" cy="664" r="0.7" fill="#ea8f4c"/>
<circle cx="315" cy="667" r="0.7" fill="#ea8f4c"/>
<path d="M380 664.4 L402.9 664.4 A3.3 3.3 0 0 0 401 657.8 A4.4 4.4 0 0 0 392.4 653.5 A4.9 4.9 0 0 0 383.4 657.5 A3.5 3.5 0 0 0 380 664.4 Z" fill="#ea8f4c"/>
<path d="M394.4 648.8 L405.1 648.8 A2.2 2.2 0 0 0 401 645.2 A2.8 2.8 0 0 0 395.5 645.5 A1.8 1.8 0 0 0 394.4 648.8 Z" fill="#ea8f4c"/>
<rect x="455.85" y="636.3" width="1.3" height="8.6" fill="#ea8f4c"/>
<rect x="458.75" y="636.3" width="1.3" height="8.6" fill="#ea8f4c"/>
<rect x="461.65000000000003" y="636.3" width="1.3" height="8.6" fill="#ea8f4c"/>
<rect x="451.5" y="644.9" width="15.800000000000011" height="8.200000000000045" fill="#ea8f4c"/>
<rect x="452.6" y="646.0" width="13.600000000000012" height="3.98" fill="#fff"/>
<path d="M452.60 650.15 Q454.87 646.54 457.13 650.15 Z M457.13 650.15 Q459.40 646.54 461.67 650.15 Z M461.67 650.15 Q463.93 646.54 466.20 650.15 Z " fill="#ea8f4c"/>
<rect x="449.1" y="653.1" width="20.0" height="8.199999999999932" fill="#ea8f4c"/>
<rect x="450.20000000000005" y="654.2" width="17.8" height="3.98" fill="#fff"/>
<path d="M450.20 658.35 Q452.43 654.74 454.65 658.35 Z M454.65 658.35 Q456.88 654.74 459.10 658.35 Z M459.10 658.35 Q461.33 654.74 463.55 658.35 Z M463.55 658.35 Q465.78 654.74 468.00 658.35 Z " fill="#ea8f4c"/>
<rect x="445.6" y="661.3" width="27.0" height="8.300000000000068" fill="#ea8f4c"/>
<rect x="446.70000000000005" y="662.4" width="24.8" height="4.05" fill="#fff"/>
<path d="M446.70 666.61 Q450.83 662.96 454.97 666.61 Z M454.97 666.61 Q459.10 662.96 463.23 666.61 Z M463.23 666.61 Q467.37 662.96 471.50 666.61 Z " fill="#ea8f4c"/>
<rect x="442.1" y="669.4" width="34" height="2.6" rx="1" fill="#ea8f4c"/>
<rect x="531.2" y="652.3" width="26" height="19.6" rx="2" stroke="#e49a62" stroke-width="1.1" fill="none" stroke-linejoin="round"/>
<path d="M531.2 657 L541.8 657 M547.1 657 L557.2 657" stroke="#e49a62" stroke-width="1.1" fill="none" stroke-linejoin="round"/>
<rect x="541.8" y="652.3" width="5.3" height="4.7" stroke="#e49a62" stroke-width="1.1" fill="none" stroke-linejoin="round"/>
<path d="M531.6 654.5 L537.5 654.5" stroke="#e49a62" stroke-width="1.1" fill="none" stroke-linejoin="round"/>
<circle cx="543.8" cy="664.6" r="5.1" stroke="#e49a62" stroke-width="1.1" fill="none" stroke-linejoin="round"/>
<circle cx="543.8" cy="664.6" r="2.4" stroke="#e49a62" stroke-width="1.1" fill="none" stroke-linejoin="round"/>
<path d="M623.6 646.4 L616 647 Q611.5 648 611.3 649.5 L611.9 656.1 L615.4 656.1" stroke="#e49a62" stroke-width="1.2" fill="none" stroke-linecap="round" stroke-linejoin="round"/>
<path d="M626 646.1 L637 646.2 Q644 647.5 644.1 649 L644.1 655.5 L640.6 656.1" stroke="#e49a62" stroke-width="1.2" fill="none" stroke-linecap="round" stroke-linejoin="round"/>
<path d="M623.6 646.6 Q625 650.8 627.7 650.8 Q630 650.8 631.2 649.4" stroke="#e49a62" stroke-width="1.2" fill="none" stroke-linecap="round" stroke-linejoin="round"/>
<path d="M617.7 654.3 L617.7 669.6 Q621 671 624 677.2 L631.8 677.2 Q634 671 638 669.6 L638 654.3" stroke="#e49a62" stroke-width="1.2" fill="none" stroke-linecap="round" stroke-linejoin="round"/>
<path d="M617.6 672.3 Q618 676 622 677.2 M638.2 672.3 Q637.6 676 634 677.2" stroke="#e49a62" stroke-width="1.2" fill="none" stroke-linecap="round" stroke-linejoin="round"/>
<path d="M628 661.8 L625 658.5 Q624.6 656.6 626.4 656.5 Q627.6 656.5 628 657.6 Q628.4 656.5 629.6 656.5 Q631.4 656.6 631 658.5 Z" fill="#ea8f4c"/>
<rect x="691.3" y="650.9" width="19.4" height="19.6" fill="none" stroke="#ea8f4c" stroke-width="2.4"/>
<path d="M694.9 653.5 L707.6 660.5 L694.9 667.6 Z" fill="#ea8f4c"/>
</svg>
</body></html>
